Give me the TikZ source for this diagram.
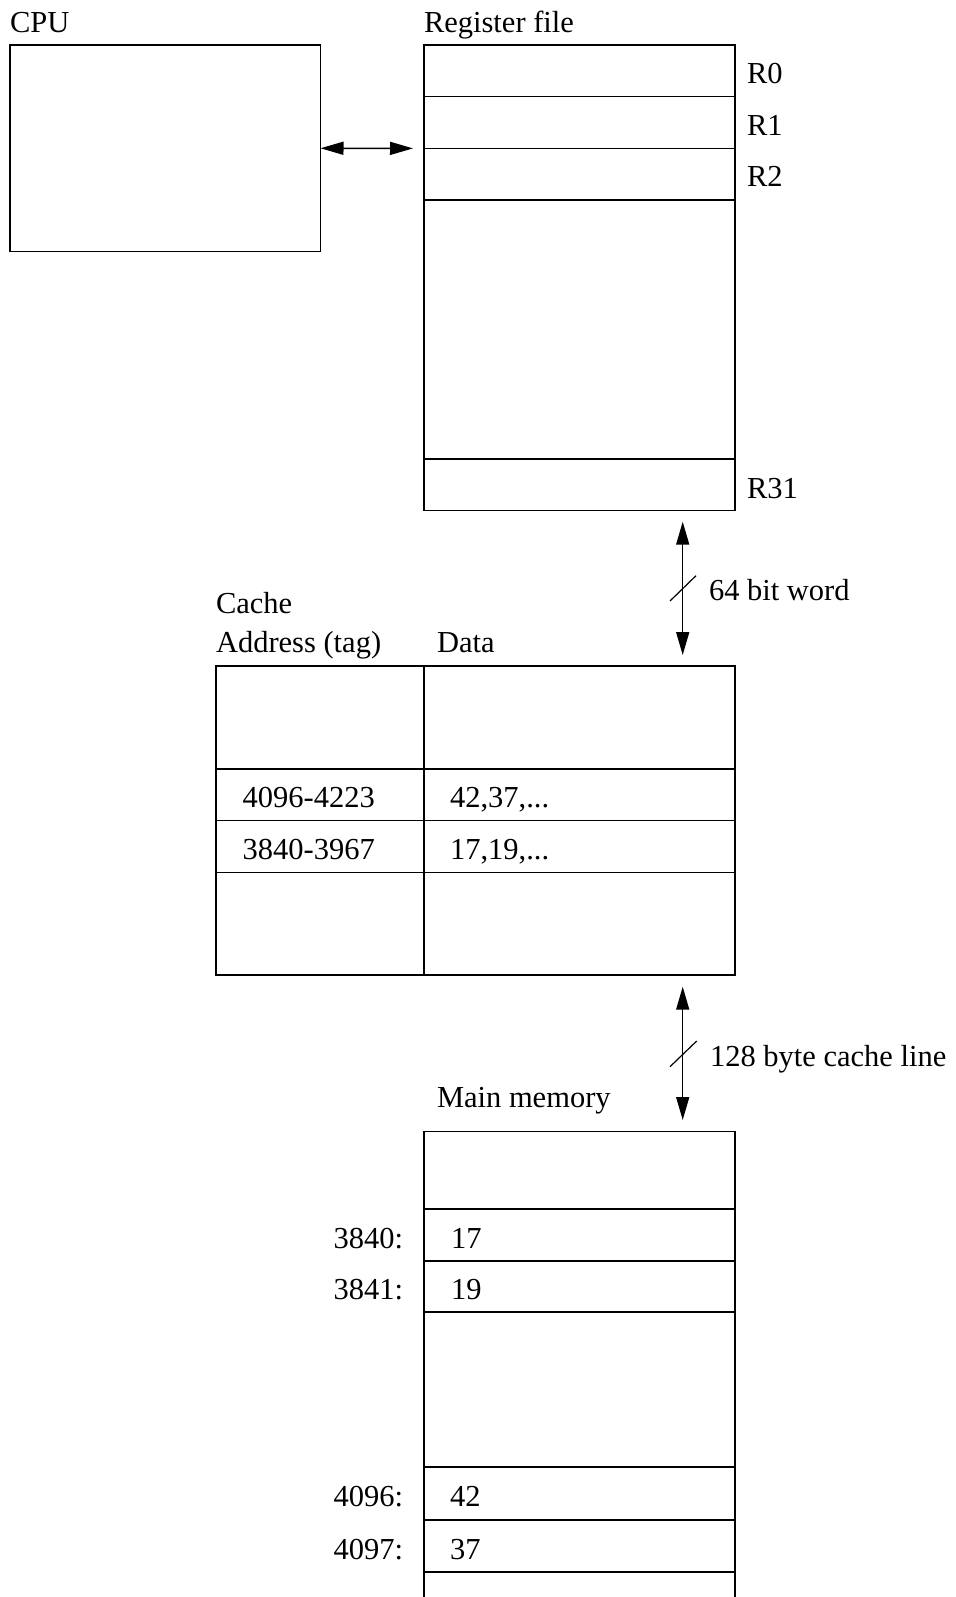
\documentclass[tikz,border=0pt]{standalone}
\usepackage{fontspec}
\setmainfont{Liberation Serif}
\usetikzlibrary{arrows.meta}
\begin{document}
\begin{tikzpicture}[x=1pt,y=-1pt,
  every node/.style={font=\fontsize{30.5}{36}\selectfont, inner sep=0pt, outer sep=0pt},
  cell/.style={draw, line width=1.5pt, anchor=north west, minimum width=#1},
  cell/.default=311pt,
  lbl/.style={anchor=base west},
  rlbl/.style={anchor=base east},
  link/.style={line width=1.5pt, {Triangle[length=23pt,width=13pt]}-{Triangle[length=23pt,width=13pt]}},
  slash/.style={line width=1.2pt}]
\clip (0,0) rectangle (955,1597);

% CPU
\node[cell=310.5pt, minimum height=206.5pt] (cpu) at (10,45) {};
\node[lbl] (cpulbl) at (10,33) {CPU};

% Register file
\node[lbl] (reglbl) at (424,33) {Register file};
\node[cell, minimum height=51.7pt] (r0) at (424,45) {};
\node[cell, minimum height=51.7pt] (r1) at (424,96.7) {};
\node[cell, minimum height=51.7pt] (r2) at (424,148.4) {};
\node[cell, minimum height=258.9pt] (rmid) at (424,200.1) {};
\node[cell, minimum height=51.7pt] (r31) at (424,459) {};
\node[lbl] (r0lbl) at (747,84) {R0};
\node[lbl] (r1lbl) at (747,135.7) {R1};
\node[lbl] (r2lbl) at (747,187) {R2};
\node[lbl] (r31lbl) at (747,498) {R31};

% CPU <-> register file
\coordinate (regin) at (413,148.4);
\draw[link] (cpu.east) -- (regin);

% Cache
\node[lbl] (cachelbl) at (216,613) {Cache};
\node[lbl] (addrlbl) at (216,652) {Address (tag)};
\node[lbl] (datalbl) at (437,652) {Data};
\node[cell=208pt, minimum height=103pt] (ca1) at (216,666) {};
\node[cell, minimum height=103pt] (cd1) at (424,666) {};
\node[cell=208pt, minimum height=51.7pt] (ca2) at (216,769) {};
\node[cell, minimum height=51.7pt] (cd2) at (424,769) {};
\node[cell=208pt, minimum height=51.8pt] (ca3) at (216,820.7) {};
\node[cell, minimum height=51.8pt] (cd3) at (424,820.7) {};
\node[cell=208pt, minimum height=102.5pt] (ca4) at (216,872.5) {};
\node[cell, minimum height=102.5pt] (cd4) at (424,872.5) {};
\node[lbl] (t1) at (242.7,807) {4096-4223};
\node[lbl] (d1) at (450,807) {42,37,...};
\node[lbl] (t2) at (242.7,859) {3840-3967};
\node[lbl] (d2) at (450,859) {17,19,...};

% Register file <-> cache
\coordinate (a1top) at (682.7,521.7);
\coordinate (a1bot) at (682.7,655);
\draw[link] (a1top) -- (a1bot);
\coordinate (s1a) at (670,601);
\coordinate (s1b) at (696,575.7);
\draw[slash] (s1a) -- (s1b);
\node[lbl] (wordlbl) at (709,600) {64 bit word};

% Cache <-> main memory
\coordinate (a2top) at (682.7,986.7);
\coordinate (a2bot) at (682.7,1120);
\draw[link] (a2top) -- (a2bot);
\coordinate (s2a) at (670,1066.7);
\coordinate (s2b) at (696.7,1041);
\draw[slash] (s2a) -- (s2b);
\node[lbl] (linelbl) at (710,1066) {128 byte cache line};

% Main memory
\node[lbl] (memlbl) at (437,1107) {Main memory};
\node[cell, minimum height=77.5pt] (m0) at (424,1131.5) {};
\node[cell, minimum height=52pt] (m1) at (424,1209) {};
\node[cell, minimum height=51pt] (m2) at (424,1261) {};
\node[cell, minimum height=155pt] (m3) at (424,1312) {};
\node[cell, minimum height=53pt] (m4) at (424,1467) {};
\node[cell, minimum height=52pt] (m5) at (424,1520) {};
\node[cell, minimum height=60pt] (m6) at (424,1572) {};
\node[rlbl] (m1a) at (403,1248) {3840:};
\node[lbl] (m1v) at (451,1248) {17};
\node[rlbl] (m2a) at (403,1299.5) {3841:};
\node[lbl] (m2v) at (451,1299.5) {19};
\node[rlbl] (m4a) at (403,1506.7) {4096:};
\node[lbl] (m4v) at (450,1506.7) {42};
\node[rlbl] (m5a) at (403,1559) {4097:};
\node[lbl] (m5v) at (450,1559) {37};
\end{tikzpicture}
\end{document}
